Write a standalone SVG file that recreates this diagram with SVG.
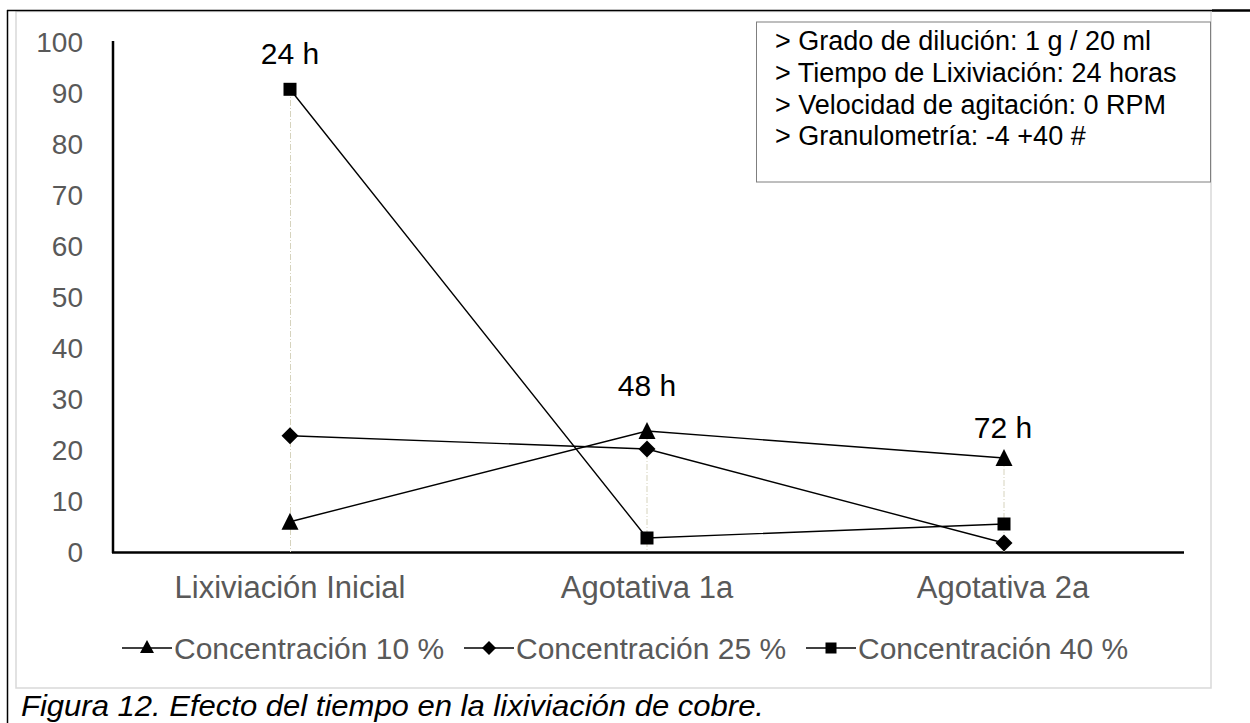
<svg xmlns="http://www.w3.org/2000/svg" width="1250" height="723" viewBox="0 0 1250 723">
<defs>
<style>
.tick{font-family:"Liberation Sans",Arial,sans-serif;font-size:28px;fill:#595959;text-anchor:end}
.cat{font-family:"Liberation Sans",Arial,sans-serif;font-size:31px;fill:#595959;text-anchor:middle}
.lab{font-family:"Liberation Sans",Arial,sans-serif;font-size:30px;fill:#000;text-anchor:middle}
.info{font-family:"Liberation Sans",Arial,sans-serif;font-size:27px;fill:#000}
.leg{font-family:"Liberation Sans",Arial,sans-serif;font-size:30px;fill:#595959}
.cap{font-family:"Liberation Sans",Arial,sans-serif;font-size:30px;font-style:italic;fill:#000}
.ser{fill:none;stroke:#000;stroke-width:1.4}
.drop{fill:none;stroke:#d6d3bd;stroke-width:1;stroke-dasharray:6 2 1 2}
.axis{fill:none;stroke:#000;stroke-width:2.5}
</style>
<path id="tri" d="M0,-9 L8.5,8 L-8.5,8 Z"/>
<path id="dia" d="M0,-8.5 L8.5,0 L0,8.5 L-8.5,0 Z"/>
<rect id="sq" x="-6.5" y="-6.5" width="13" height="13"/>
</defs>
<rect x="0" y="0" width="1250" height="723" fill="#fff"/>
<g id="frame">
<rect x="16" y="11.5" width="1195" height="676.5" fill="#fff" stroke="#d9d9d9" stroke-width="1.5"/>
<line x1="7" y1="10.5" x2="1212" y2="10.5" stroke="#000" stroke-width="1.5"/>
<line x1="1212" y1="10.5" x2="1250" y2="10.5" stroke="#000" stroke-width="2.5"/>
<line x1="7.5" y1="10" x2="7.5" y2="723" stroke="#000" stroke-width="1.5"/>
</g>
<g id="yaxis">
<line class="axis" x1="113" y1="41" x2="113" y2="553"/>
<text class="tick" x="83" y="52">100</text>
<text class="tick" x="83" y="103">90</text>
<text class="tick" x="83" y="154">80</text>
<text class="tick" x="83" y="205">70</text>
<text class="tick" x="83" y="256">60</text>
<text class="tick" x="83" y="307">50</text>
<text class="tick" x="83" y="358">40</text>
<text class="tick" x="83" y="409">30</text>
<text class="tick" x="83" y="460">20</text>
<text class="tick" x="83" y="511">10</text>
<text class="tick" x="83" y="562">0</text>
</g>
<g id="xaxis">
<line class="axis" x1="112" y1="552.5" x2="1184" y2="552.5"/>
<text class="cat" x="290" y="598">Lixiviación Inicial</text>
<text class="cat" x="647" y="598">Agotativa 1a</text>
<text class="cat" x="1003" y="598">Agotativa 2a</text>
</g>
<g id="connectors">
<line class="drop" x1="290.5" y1="89" x2="290.5" y2="552"/>
<line class="drop" x1="647" y1="431" x2="647" y2="552"/>
<line class="drop" x1="1004" y1="458" x2="1004" y2="552"/>
<polyline class="ser" points="290,521.7 647,431 1004,458"/>
<polyline class="ser" points="290,435.7 647,449 1004,543"/>
<polyline class="ser" points="290,89.3 647,538 1004,524"/>
</g>
<g id="series-10">
<use href="#tri" x="290" y="521.7"/>
<use href="#tri" x="647" y="431"/>
<use href="#tri" x="1004" y="458"/>
</g>
<g id="series-25">
<use href="#dia" x="290" y="435.7"/>
<use href="#dia" x="647" y="449"/>
<use href="#dia" x="1004" y="543"/>
</g>
<g id="series-40">
<use href="#sq" x="290" y="89.3"/>
<use href="#sq" x="647" y="538"/>
<use href="#sq" x="1004" y="524"/>
</g>
<g id="labels">
<text class="lab" x="290" y="64">24 h</text>
<text class="lab" x="647" y="396">48 h</text>
<text class="lab" x="1003" y="438">72 h</text>
</g>
<g id="infobox">
<rect x="756.5" y="22" width="454" height="160" fill="#fff" stroke="#7f7f7f" stroke-width="1"/>
<text class="info" x="775" y="50">&gt; Grado de dilución: 1 g / 20 ml</text>
<text class="info" x="775" y="82">&gt; Tiempo de Lixiviación: 24 horas</text>
<text class="info" x="775" y="114">&gt; Velocidad de agitación: 0 RPM</text>
<text class="info" x="775" y="145">&gt; Granulometría: -4 +40 #</text>
</g>
<g id="legend">
<line x1="122" y1="648" x2="172" y2="648" stroke="#000" stroke-width="1.4"/>
<path d="M147,640 L154,653 L140,653 Z"/>
<text class="leg" x="174" y="659">Concentración 10 %</text>
<line x1="464" y1="648" x2="514" y2="648" stroke="#000" stroke-width="1.4"/>
<path d="M489,641 L496,648 L489,655 L482,648 Z"/>
<text class="leg" x="516" y="659">Concentración 25 %</text>
<line x1="806" y1="648" x2="856" y2="648" stroke="#000" stroke-width="1.4"/>
<rect x="825.5" y="642.5" width="11" height="11"/>
<text class="leg" x="858" y="659">Concentración 40 %</text>
</g>
<g id="caption">
<text class="cap" x="21" y="716" textLength="743" lengthAdjust="spacingAndGlyphs">Figura 12. Efecto del tiempo en la lixiviación de cobre.</text>
</g>
</svg>
